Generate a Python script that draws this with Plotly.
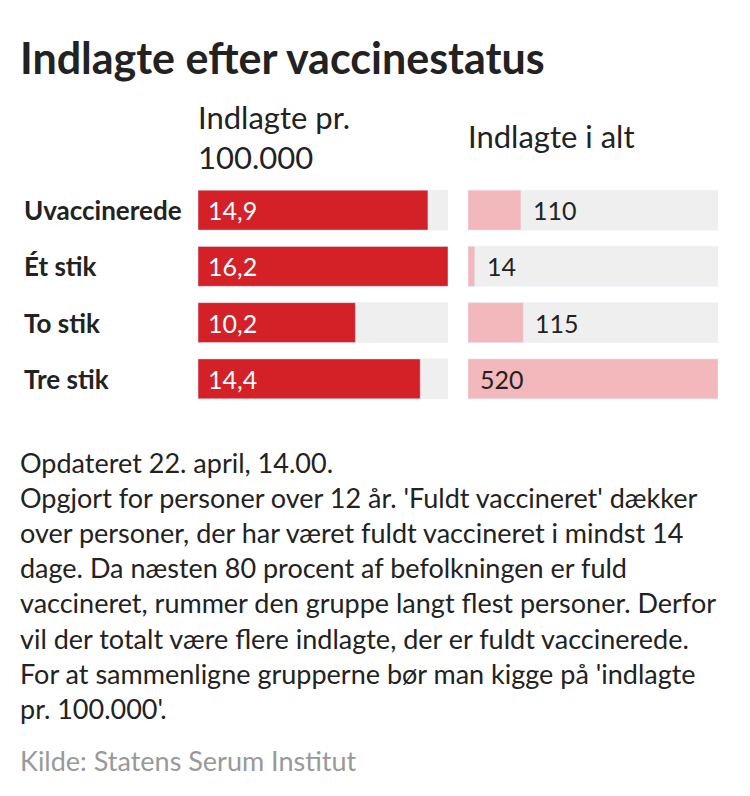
import plotly.graph_objects as go

categories = ["Uvaccinerede", "Ét stik", "To stik", "Tre stik"]
per_100k = [14.9, 16.2, 10.2, 14.4]
total = [110, 14, 115, 520]

FONT = "Lato"
W, H = 750, 796
OFF = 8  # page body margin


def px(x):
    return (x - OFF) / W


def py(y):
    return 1 - (y - OFF) / H


fig = go.Figure()

max_l = max(per_100k)
max_r = max(total)

# grey backgrounds
fig.add_trace(go.Bar(y=categories, x=[max_l] * 4, orientation="h", marker_color="#efefef",
                     xaxis="x", yaxis="y", hoverinfo="skip"))
fig.add_trace(go.Bar(y=categories, x=[max_r] * 4, orientation="h", marker_color="#efefef",
                     xaxis="x2", yaxis="y", hoverinfo="skip"))
fig.add_trace(go.Bar(y=categories, x=per_100k, orientation="h", marker_color="#d42027",
                     xaxis="x", yaxis="y", hoverinfo="skip"))
fig.add_trace(go.Bar(y=categories, x=total, orientation="h", marker_color="#f2b8bb",
                     xaxis="x2", yaxis="y", hoverinfo="skip"))

for c, v in zip(categories, per_100k):
    fig.add_annotation(x=0, y=c, xref="x", yref="y", text=f"{v:.1f}".replace(".", ","),
                       showarrow=False, xanchor="left", xshift=8,
                       font=dict(family=FONT, size=25, color="white"))
for c, v in zip(categories, total):
    inside = v > 0.8 * max_r
    fig.add_annotation(x=0 if inside else v, y=c, xref="x2", yref="y", text=str(v),
                       showarrow=False, xanchor="left", xshift=10,
                       font=dict(family=FONT, size=25, color="#222"))

for c in categories:
    fig.add_annotation(x=px(22), y=c, xref="paper", yref="y", text=f"<b>{c}</b>",
                       showarrow=False, xanchor="left",
                       font=dict(family=FONT, size=26, color="#222"))

fig.add_annotation(x=px(18), y=py(58), xref="paper", yref="paper",
                   text="<b>Indlagte efter vaccinestatus</b>", showarrow=False,
                   xanchor="left", yanchor="middle", font=dict(family=FONT, size=43, color="#222"))
fig.add_annotation(x=px(196), y=py(137), xref="paper", yref="paper",
                   text="Indlagte pr.<br>100.000", showarrow=False, align="left",
                   xanchor="left", yanchor="middle", font=dict(family=FONT, size=31, color="#222"))
fig.add_annotation(x=px(466), y=py(136), xref="paper", yref="paper",
                   text="Indlagte i alt", showarrow=False,
                   xanchor="left", yanchor="middle", font=dict(family=FONT, size=31, color="#222"))

note = ("Opdateret 22. april, 14.00.<br>"
        "Opgjort for personer over 12 år. 'Fuldt vaccineret' dækker<br>"
        "over personer, der har været fuldt vaccineret i mindst 14<br>"
        "dage. Da næsten 80 procent af befolkningen er fuld<br>"
        "vaccineret, rummer den gruppe langt flest personer. Derfor<br>"
        "vil der totalt være flere indlagte, der er fuldt vaccinerede.<br>"
        "For at sammenligne grupperne bør man kigge på 'indlagte<br>"
        "pr. 100.000'.")
fig.add_annotation(x=px(18), y=py(444), xref="paper", yref="paper", text=note,
                   showarrow=False, align="left", xanchor="left", yanchor="top",
                   font=dict(family=FONT, size=27, color="#222"))
fig.add_annotation(x=px(18), y=py(760), xref="paper", yref="paper",
                   text="Kilde: Statens Serum Institut", showarrow=False,
                   xanchor="left", yanchor="middle", font=dict(family=FONT, size=27, color="#999"))

fig.update_layout(
    width=W, height=H, margin=dict(l=0, r=0, t=0, b=0),
    paper_bgcolor="white", plot_bgcolor="white",
    barmode="overlay", bargap=0.29, showlegend=False,
    xaxis=dict(domain=[px(198), px(448)], range=[0, max_l], visible=False, fixedrange=True),
    xaxis2=dict(domain=[px(468), px(718)], range=[0, max_r], visible=False, fixedrange=True),
    yaxis=dict(domain=[py(407), py(182)], autorange="reversed", visible=False),
)

fig.write_html("out.html")
